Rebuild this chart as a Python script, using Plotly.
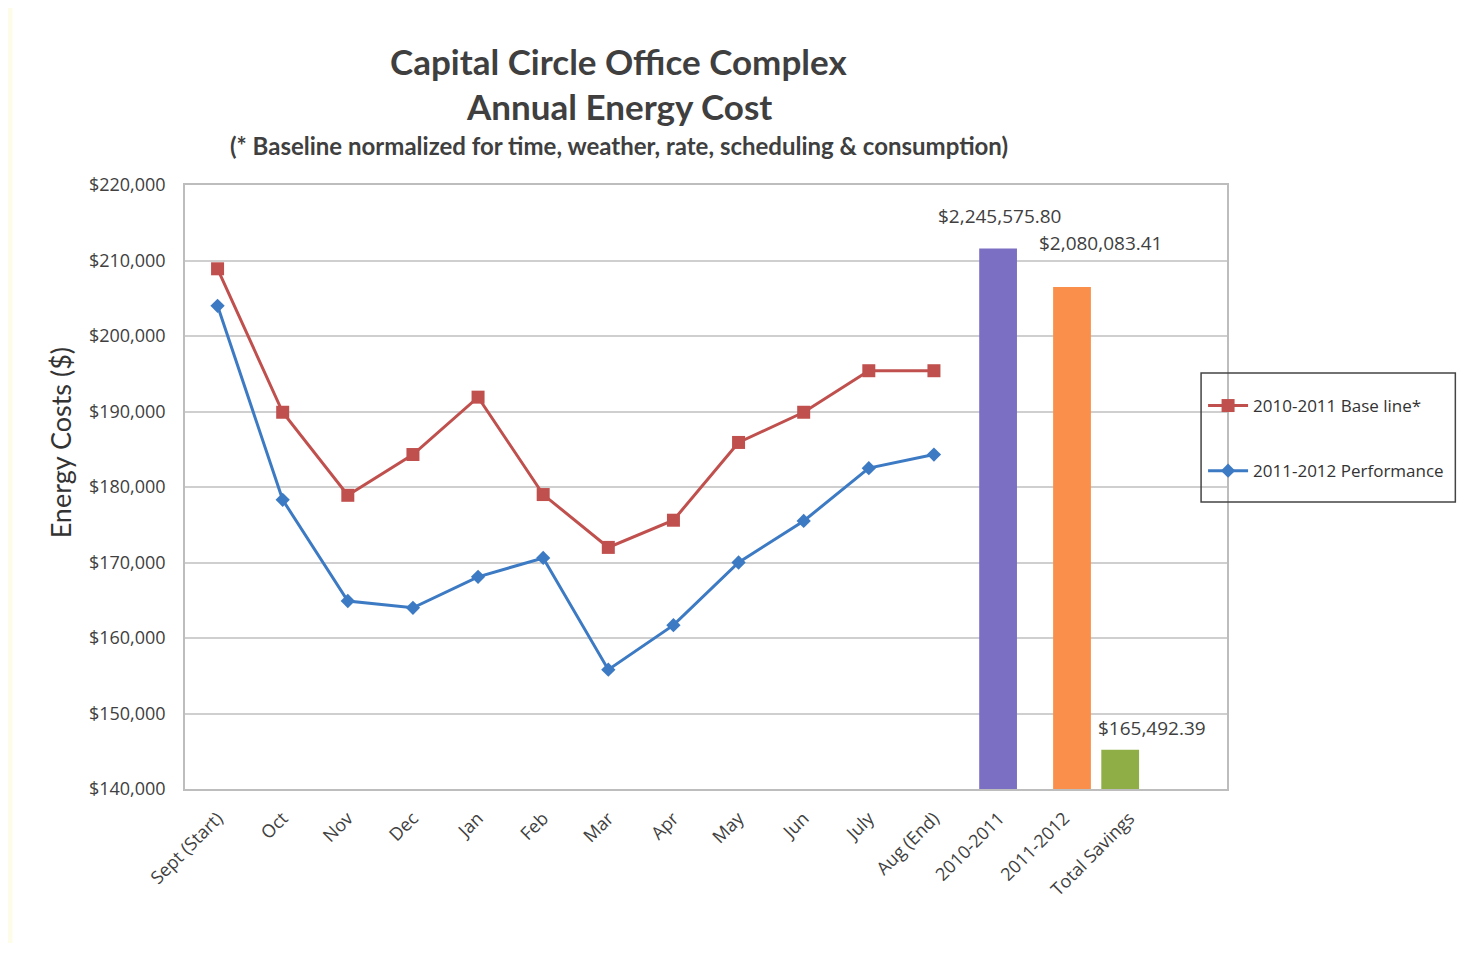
import plotly.graph_objects as go

months = ["Sept (Start)", "Oct", "Nov", "Dec", "Jan", "Feb", "Mar", "Apr",
          "May", "Jun", "July", "Aug (End)"]
bar_categories = ["2010-2011", "2011-2012", "Total Savings"]
categories = months + bar_categories

baseline = [208900, 189900, 178900, 184300, 191900, 179000, 172000, 175600,
            185900, 189900, 195400, 195400]
performance = [204000, 178300, 164900, 164000, 168100, 170600, 155800, 161700,
               170000, 175500, 182500, 184300]
bar_values = [211600, 206500, 145200]
bar_labels = ["$2,245,575.80", "$2,080,083.41", "$165,492.39"]

y_ticks = [140000, 150000, 160000, 170000, 180000, 190000, 200000, 210000, 220000]
y_tick_labels = ["$140,000", "$150,000", "$160,000", "$170,000", "$180,000",
                 "$190,000", "$200,000", "$210,000", "$220,000"]

# page is 1469x959; the html body has an 8px margin all round
OFF = 8
W, H = 1469 - 2 * OFF, 959 - 2 * OFF - 8
L, T = 185 - OFF, 185 - OFF
R, B = W - (1230 - OFF), H - (789 - OFF)
pw, ph = W - L - R, H - T - B


def px(page_x):
    return (page_x - OFF - L) / pw


def py(page_y):
    return (H - B - (page_y - OFF)) / ph


FONT = "'Open Sans', Lato, sans-serif"
TFONT = "Lato, 'Open Sans', sans-serif"
RED = "#C0504D"
BLUE = "#3D7AC4"

fig = go.Figure()

fig.add_trace(go.Bar(
    x=bar_categories, y=bar_values,
    marker=dict(color=["#7B6FC4", "#F98F4A", "#8FAE45"], line=dict(width=0)),
    width=0.58, offset=[-0.305, -0.17, -0.43],
    showlegend=False, hoverinfo="skip",
))

fig.add_trace(go.Scatter(
    x=months, y=baseline, mode="lines+markers", name="2010-2011 Base line*",
    line=dict(color=RED, width=3),
    marker=dict(symbol="square", size=13, color=RED),
    legendgroup="a",
))
fig.add_trace(go.Scatter(
    x=months, y=performance, mode="lines+markers", name="2011-2012 Performance",
    line=dict(color=BLUE, width=3),
    marker=dict(symbol="diamond", size=11, color=BLUE),
    legendgroup="b",
))

annotations = []
shifts = [(0, 17), (36, 29), (23, 7)]
for cat, val, lab, (xs, ys) in zip(bar_categories, bar_values, bar_labels, shifts):
    annotations.append(dict(
        x=cat, y=val, text=lab, showarrow=False, xref="x", yref="y",
        xanchor="center", yanchor="bottom", xshift=xs, yshift=ys,
        font=dict(family=FONT, size=19, color="#404040"),
    ))

annotations += [
    dict(x=px(620), y=py(61), xref="paper", yref="paper", showarrow=False,
         xanchor="center", yanchor="middle",
         text="<b>Capital Circle Office Complex</b>",
         font=dict(family=TFONT, size=35, color="#3F3F3F")),
    dict(x=px(620), y=py(106), xref="paper", yref="paper", showarrow=False,
         xanchor="center", yanchor="middle",
         text="<b>Annual Energy Cost</b>",
         font=dict(family=TFONT, size=35, color="#3F3F3F")),
    dict(x=px(620), y=py(145), xref="paper", yref="paper", showarrow=False,
         xanchor="center", yanchor="middle",
         text="<b>(* Baseline normalized for time, weather, rate, scheduling & consumption)</b>",
         font=dict(family=TFONT, size=24, color="#3F3F3F")),
    dict(x=px(60), y=py(443), xref="paper", yref="paper", showarrow=False,
         xanchor="center", yanchor="middle",
         text="Energy Costs ($)", textangle=-90,
         font=dict(family=TFONT, size=27, color="#333333")),
]

shapes = [
    # cream page border
    dict(type="rect", xref="paper", yref="paper", layer="below",
         x0=px(12), x1=px(1469), y0=py(6), y1=py(960),
         fillcolor="white", line=dict(width=0)),
    # legend box
    dict(type="rect", xref="paper", yref="paper",
         x0=px(1204), x1=px(1459), y0=py(373), y1=py(502),
         line=dict(color="#444444", width=1.5), fillcolor="rgba(0,0,0,0)"),
]

fig.update_layout(
    width=W, height=H,
    margin=dict(l=L, r=R, t=T, b=B),
    paper_bgcolor="#FDFCE9",
    plot_bgcolor="rgba(0,0,0,0)",
    barmode="overlay",
    font=dict(family=FONT, color="#404040"),
    annotations=annotations,
    shapes=shapes,
    legend=dict(
        x=px(1206), y=py(388), xanchor="left", yanchor="top",
        bgcolor="rgba(0,0,0,0)", borderwidth=0,
        font=dict(family=FONT, size=17, color="#333333"),
        tracegroupgap=40, itemwidth=40,
    ),
    xaxis=dict(
        type="category", categoryorder="array", categoryarray=categories,
        range=[-0.5, len(categories) + 0.5],
        tickangle=-45, showgrid=False,
        tickfont=dict(family=FONT, size=18, color="#404040"),
        showline=True, linecolor="#BDBDBD", linewidth=1.5, mirror=True,
        ticks="", ticklabelstandoff=10, fixedrange=True,
    ),
    yaxis=dict(
        range=[140000, 220000], tickmode="array",
        tickvals=y_ticks, ticktext=y_tick_labels,
        showgrid=True, gridcolor="#CFCFCF", gridwidth=1.5,
        showline=True, linecolor="#BDBDBD", linewidth=1.5, mirror=True,
        zeroline=False, ticks="", ticklabelstandoff=14,
        tickfont=dict(family=FONT, size=18, color="#404040"),
    ),
)

fig.write_html("out.html")
